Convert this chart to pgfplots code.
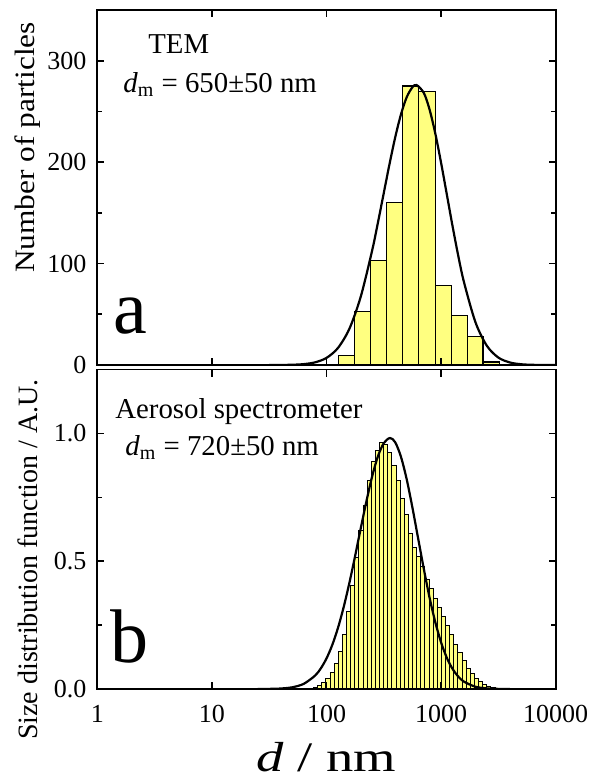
\documentclass[border=0pt]{standalone}
\usepackage{fontspec}
\setmainfont{Liberation Serif}
\usepackage{graphicx}
\usepackage{pgfplots}
\pgfplotsset{compat=1.18}
\definecolor{baryellow}{RGB}{255,255,128}
\pgfplotsset{
  mypanel/.style={
    scale only axis, width=229.2pt,
    xmin=1, xmax=10000, xminorticks=false,
    axis line style={line width=0.9pt, black},
    tick style={black, line width=0.8pt},
    major tick length=3.6pt, minor tick length=2.2pt,
    tick align=inside,
    axis on top,
    ticklabel style={font=\fontsize{13}{15}\selectfont},
    xticklabel style={inner sep=0pt, yshift=-8pt},
    yticklabel style={inner sep=0pt, xshift=-5.3pt},
  }
}
\begin{document}
\begin{tikzpicture}[x=1pt,y=1pt]
\path[use as bounding box] (-48.65pt,-47.5pt) rectangle (248.35pt,344.5pt);
% top panel
\begin{semilogxaxis}[mypanel, at={(0pt,162pt)}, anchor=south west, height=177.5pt,
  ymin=0, ymax=350,
  xtick={10,100,1000}, xticklabels={},
  ytick={0,100,200,300}, yticklabels={0,100,200,300},
  minor ytick={50,150,250}]
\addplot[ybar interval, fill=baryellow, draw=black, line width=0.6pt] coordinates {
 (126.8,9) (174.6,53) (242.7,103) (335,160) (461,275) (640,270) (887,78) (1225,49) (1687,28) (2323,3) (3251,3)};
\addplot[smooth, black, line width=1.1pt] coordinates {
 (31.62,0.015) (39.81,0.065) (50.12,0.25) (63.10,0.85) (79.43,2.6) (100,7.0) (125.9,16.8) (158.5,35.8) (199.5,67.8) (251.2,113.8) (281.8,141.1) (316.2,169.7) (354.8,198.2) (398.1,224.7) (446.7,247.2) (501.2,264.1) (562.3,273.9) (611,276) (707.9,268.1) (794.3,251.6) (891.3,227.9) (1000,199.2) (1122,168.1) (1259,136.8) (1413,107.4) (1585,81.5) (1995,42.1) (2512,18.8) (3162,7.3) (3981,2.5) (5012,0.72) (6310,0.18) (7943,0.04) (10000,0.01)};
\end{semilogxaxis}
% bottom panel
\begin{semilogxaxis}[mypanel, at={(0pt,0pt)}, anchor=south west, height=159.75pt,
  ymin=0, ymax=1.25,
  xtick={1,10,100,1000,10000}, xticklabels={1,10,100,1000,10000},
  ytick={0,0.5,1}, yticklabels={0.0,0.5,1.0},
  minor ytick={0.25,0.75}]
\addplot[ybar interval, fill=baryellow, draw=black, line width=0.4pt] coordinates {
 (70.79,0.003) (76.91,0.007) (83.56,0.014) (90.78,0.026) (98.63,0.042) (107.15,0.066) (116.41,0.100) (126.47,0.148) (137.40,0.215) (149.28,0.305) (162.18,0.405) (176.20,0.515) (191.42,0.620) (207.97,0.720) (225.94,0.815) (245.47,0.892) (266.69,0.935) (289.73,0.966) (314.77,0.958) (341.98,0.925) (371.54,0.874) (403.65,0.815) (438.53,0.745) (476.43,0.683) (517.61,0.610) (562.34,0.555) (610.94,0.520) (663.74,0.478) (721.11,0.430) (783.43,0.392) (851.14,0.355) (924.70,0.320) (1004.6,0.285) (1091.5,0.250) (1185.8,0.212) (1288.2,0.175) (1399.6,0.142) (1520.5,0.110) (1651.9,0.082) (1794.7,0.060) (1949.8,0.042) (2118.4,0.029) (2301.4,0.019) (2500.3,0.012) (2716.4,0.007) (2951.2,0.004) (3206.3,0.002) (3483.4,0.002)};
\addplot[smooth, black, line width=1.1pt] coordinates {
 (25.12,0.0001) (31.62,0.0005) (39.81,0.0019) (50.12,0.0066) (63.10,0.0199) (79.43,0.0523) (89.13,0.0804) (100,0.1196) (112.2,0.172) (125.9,0.239) (141.3,0.321) (158.5,0.416) (177.8,0.521) (199.5,0.631) (223.9,0.738) (251.2,0.835) (281.8,0.912) (316.2,0.962) (358.1,0.982) (398.1,0.965) (446.7,0.908) (501.2,0.820) (562.3,0.709) (631.0,0.588) (707.9,0.468) (794.3,0.356) (891.3,0.260) (1000,0.182) (1122,0.122) (1259,0.0787) (1413,0.0485) (1585,0.0287) (1995,0.0088) (2512,0.0023) (3162,0.0005) (3981,0.0001)};
\end{semilogxaxis}
% annotations
\node[anchor=base west, inner sep=0pt, font=\fontsize{14.4}{17}\selectfont] at (25.35pt,318pt) {TEM};
\node[anchor=base west, inner sep=0pt, font=\fontsize{14.4}{17}\selectfont] at (12.85pt,298.5pt) {\textit{d}\textsubscript{m} = 650±50 nm};
\node[anchor=base west, inner sep=0pt, font=\fontsize{14.4}{17}\selectfont] at (8.85pt,135.5pt) {Aerosol spectrometer};
\node[anchor=base west, inner sep=0pt, font=\fontsize{14.4}{17}\selectfont] at (13.85pt,117pt) {\textit{d}\textsubscript{m} = 720±50 nm};
\node[anchor=base west, inner sep=0pt, font=\fontsize{38}{40}\selectfont] at (7.85pt,178pt) {a};
\node[anchor=base west, inner sep=0pt, font=\fontsize{38}{40}\selectfont] at (6.35pt,13.5pt) {b};
% axis labels
\node[rotate=90, inner sep=0pt, font=\fontsize{14}{16}\selectfont] at (-34.65pt,270.75pt) {\scalebox{1.12}[1]{Number of particles}};
\node[rotate=90, inner sep=0pt, font=\fontsize{14}{16}\selectfont] at (-34.65pt,64.75pt) {Size distribution function / A.U.};
\node[anchor=base, inner sep=0pt, font=\fontsize{21}{24}\selectfont] at (114.35pt,-41pt) {\scalebox{1.3}[1]{\textit{d} / nm}};
\end{tikzpicture}
\end{document}
